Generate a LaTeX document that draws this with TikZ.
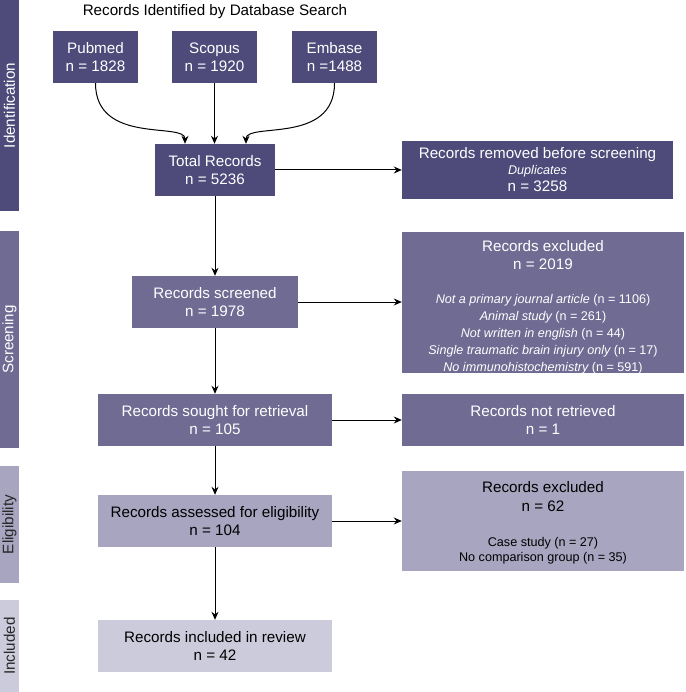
\documentclass[tikz,border=0pt]{standalone}
\usepackage{fontspec}
\setmainfont{Liberation Sans}
\usetikzlibrary{arrows.meta}

\definecolor{idcol}{HTML}{4E4A7A}
\definecolor{scrcol}{HTML}{6F6B93}
\definecolor{elicol}{HTML}{A7A5BF}
\definecolor{inccol}{HTML}{CCCBDC}

\newcommand{\bigtxt}{\fontsize{15.2}{18}\selectfont}
\newcommand{\smalltxt}{\fontsize{12.6}{14}\selectfont}

\begin{document}
\begin{tikzpicture}[x=1pt, y=-1pt,
	>={Stealth[length=8pt,width=7pt]},
	box/.style={align=center, inner sep=0pt, font=\bigtxt},
	darkbox/.style={box, fill=idcol, text=white},
	midbox/.style={box, fill=scrcol, text=white},
	lightbox/.style={box, fill=elicol, text=black},
	palebox/.style={box, fill=inccol, text=black},
	phase/.style={rotate=90, inner sep=0pt, minimum height=19pt, font=\bigtxt},
	arrow/.style={->, line width=1pt}]

	% ---- frame

	\useasboundingbox (0,0) rectangle (685,692);

	% ---- phase bars

	\node[phase, fill=idcol, text=white, minimum width=211pt] (identification) at (9.5,105.5) {Identification};
	\node[phase, fill=scrcol, text=white, minimum width=217pt] (screening) at (9.5,339.5) {Screening};
	\node[phase, fill=elicol, text=black!85, minimum width=117pt] (eligibility) at (9.5,524.5) {Eligibility};
	\node[phase, fill=inccol, text=black!85, minimum width=92pt] (included) at (9.5,646) {Included};

	% ---- identification

	\node[font=\bigtxt] (title) at (215,12) {Records Identified by Database Search};

	\node[darkbox, minimum width=85pt, minimum height=52pt] (pubmed) at (95.5,57) {Pubmed\\n = 1828};
	\node[darkbox, minimum width=85pt, minimum height=52pt] (scopus) at (214.5,57) {Scopus\\n = 1920};
	\node[darkbox, minimum width=85pt, minimum height=52pt] (embase) at (334.5,57) {Embase\\n =1488};

	\node[darkbox, minimum width=120pt, minimum height=52pt] (total) at (215,170) {Total Records\\n = 5236};

	\node[darkbox, minimum width=271pt, minimum height=58pt] (removed) at (537.5,170)
	{Records removed before screening\\[-2pt]{\smalltxt\itshape Duplicates}\\[-1pt]n = 3258};

	% ---- screening

	\node[midbox, minimum width=282pt, minimum height=141pt] (excluded) at (543,302.5) {};
	\node[box, text=white, anchor=north] (excludedtext) at ([yshift=-8pt]excluded.north)
	{Records excluded\\n = 2019\\[16pt]
	{\smalltxt\itshape Not a primary journal article \upshape(n = 1106)}\\[-1pt]
	{\smalltxt\itshape Animal study \upshape(n = 261)}\\[-1pt]
	{\smalltxt\itshape Not written in english \upshape(n = 44)}\\[-1pt]
	{\smalltxt\itshape Single traumatic brain injury only \upshape(n = 17)}\\[-1pt]
	{\smalltxt\itshape No immunohistochemistry \upshape(n = 591)}};

	\node[midbox, minimum width=166pt, minimum height=52pt] (screened) at (215,302) {Records screened\\n = 1978};

	\node[midbox, minimum width=234pt, minimum height=52pt] (sought) at (215,420) {Records sought for retrieval\\n = 105};
	\node[midbox, minimum width=282pt, minimum height=52pt] (notretrieved) at (543,420) {Records not retrieved\\n = 1};

	% ---- eligibility

	\node[lightbox, minimum width=282pt, minimum height=100pt] (excludedtwo) at (543,521) {};
	\node[box, text=black, anchor=north] (excludedtwotext) at ([yshift=-10pt]excludedtwo.north)
	{Records excluded\\[1pt]n = 62\\[17pt]
	{\smalltxt Case study (n = 27)}\\[-3pt]
	{\smalltxt No comparison group (n = 35)}};

	\node[lightbox, minimum width=234pt, minimum height=52pt] (assessed) at (215,521) {Records assessed for eligibility\\n = 104};

	% ---- included

	\node[palebox, minimum width=234pt, minimum height=52pt] (review) at (215,646) {Records included in review\\n = 42};

	% ---- merge arrows

	\coordinate (inleft) at ([xshift=-30pt]total.north);
	\coordinate (inright) at ([xshift=31pt]total.north);

	\draw[arrow] (pubmed.south) .. controls +(0,62) and +(0,-22) .. (inleft);
	\draw[arrow] (scopus.south) -- (scopus.south |- total.north);
	\draw[arrow] (embase.south) .. controls +(0,62) and +(0,-22) .. (inright);

	% ---- main flow

	\draw[arrow] (total) -- (screened);
	\draw[arrow] (screened) -- (sought);
	\draw[arrow] (sought) -- (assessed);
	\draw[arrow] (assessed) -- (review);

	% ---- side arrows

	\draw[arrow] (total) -- (removed);
	\draw[arrow] (screened.east) -- (screened.east -| excluded.west);
	\draw[arrow] (sought) -- (notretrieved);
	\draw[arrow] (assessed.east) -- (assessed.east -| excludedtwo.west);

\end{tikzpicture}
\end{document}
